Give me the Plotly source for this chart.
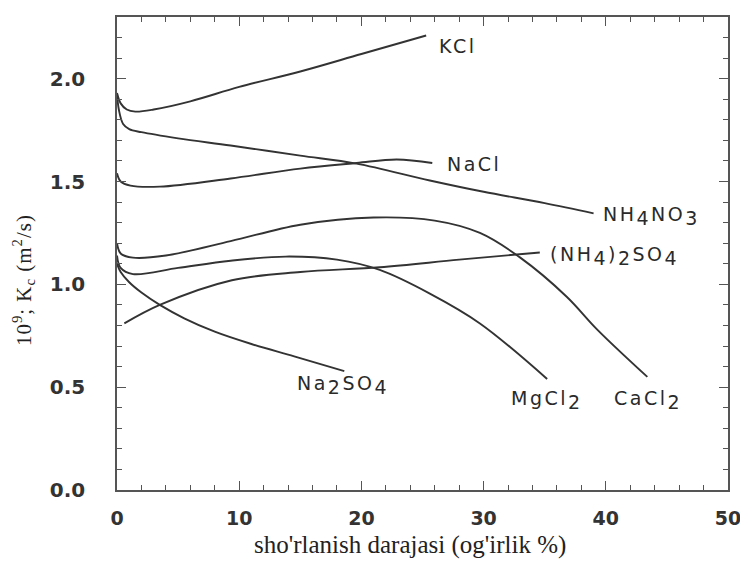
import plotly.graph_objects as go

# ---- data ----
kcl_x = [0, 0.3, 0.8, 1.5, 3, 6, 10, 15, 20, 25.3]
kcl_y = [1.93, 1.88, 1.85, 1.84, 1.85, 1.89, 1.96, 2.035, 2.12, 2.21]

nh4no3_x = [0, 0.15, 0.5, 1, 2, 5, 9.3, 15, 19.6, 25.6, 30, 35, 39]
nh4no3_y = [1.93, 1.85, 1.78, 1.755, 1.74, 1.71, 1.675, 1.626, 1.587, 1.505, 1.45, 1.395, 1.345]

nacl_x = [0, 0.3, 1.1, 3.5, 9.3, 15, 19.6, 22.9, 25.8]
nacl_y = [1.54, 1.50, 1.48, 1.475, 1.515, 1.563, 1.59, 1.607, 1.59]

cacl2_x = [0, 0.3, 1.3, 4, 9.3, 15, 21, 26, 29.7, 33, 36.8, 39.3, 43.4]
cacl2_y = [1.20, 1.15, 1.13, 1.14, 1.21, 1.29, 1.325, 1.31, 1.25, 1.13, 0.94, 0.78, 0.55]

mgcl2_x = [0, 0.3, 1.3, 5, 9.3, 13.8, 18, 21.5, 25.6, 29.7, 35.2]
mgcl2_y = [1.14, 1.08, 1.05, 1.08, 1.115, 1.135, 1.12, 1.07, 0.955, 0.81, 0.54]

nh42so4_x = [0.6, 3.5, 9.4, 15, 21.5, 28, 34.6]
nh42so4_y = [0.81, 0.90, 1.02, 1.06, 1.083, 1.12, 1.155]

na2so4_x = [0, 0.3, 1, 2, 3.5, 5.5, 8, 11, 14.5, 18.6]
na2so4_y = [1.10, 1.06, 1.01, 0.96, 0.90, 0.835, 0.77, 0.71, 0.65, 0.578]

series = [
    ("KCl", kcl_x, kcl_y),
    ("NH4NO3", nh4no3_x, nh4no3_y),
    ("NaCl", nacl_x, nacl_y),
    ("CaCl2", cacl2_x, cacl2_y),
    ("MgCl2", mgcl2_x, mgcl2_y),
    ("(NH4)2SO4", nh42so4_x, nh42so4_y),
    ("Na2SO4", na2so4_x, na2so4_y),
]


def sub(s):
    return "<sub><span style='font-size:19px'>" + s + "</span></sub>"


label_text = ["KCl", "NaCl", "NH" + sub("4") + "NO" + sub("3"),
              "(NH" + sub("4") + ")" + sub("2") + "SO" + sub("4"),
              "Na" + sub("2") + "SO" + sub("4"), "MgCl" + sub("2"), "CaCl" + sub("2")]
label_x = [26.2, 26.8, 39.6, 35.3, 14.6, 32.1, 40.5]
label_y = [2.16, 1.587, 1.33, 1.14, 0.51, 0.44, 0.44]

x_range = [0, 50]
y_range = [0, 2.3]
x_ticks = [0, 10, 20, 30, 40, 50]
y_ticks = [0.0, 0.5, 1.0, 1.5, 2.0]

x_title = "sho'rlanish darajasi (og'irlik %)"
y_title = "10<sup>9</sup>; K<sub>c</sub> (m<sup>2</sup>/s)"

LINE = "#333333"
AX = "#555555"

fig = go.Figure()
for name, xs, ys in series:
    fig.add_trace(go.Scatter(x=xs, y=ys, mode="lines", name=name,
                             line=dict(color=LINE, width=1.9, shape="spline", smoothing=1.0),
                             showlegend=False, hoverinfo="skip"))

for t, x, y in zip(label_text, label_x, label_y):
    fig.add_annotation(x=x, y=y, text="<span style='letter-spacing:2.5px'>" + t + "</span>",
                       showarrow=False, xanchor="left", yanchor="middle",
                       font=dict(family="DejaVu Sans, Arial", size=19, color="#2a2a2a"))

# axis titles placed as annotations (positions relative to plot area)
fig.add_annotation(xref="paper", yref="paper", x=0.48, y=-0.116, text=x_title, showarrow=False,
                   xanchor="center", yanchor="middle",
                   font=dict(family="Liberation Serif, Times New Roman", size=25, color="#222222"))
fig.add_annotation(xref="paper", yref="paper", x=-0.152, y=0.444,
                   text="<span style='letter-spacing:1px'>" + y_title + "</span>", showarrow=False,
                   xanchor="center", yanchor="middle", textangle=-90,
                   font=dict(family="Liberation Serif, Times New Roman", size=21, color="#222222"))

axis_common = dict(showline=True, linecolor=AX, linewidth=1.5, mirror="ticks",
                   ticks="inside", tickcolor=AX, showgrid=False, zeroline=False)

fig.update_xaxes(range=x_range, tickvals=x_ticks, ticklen=9, tickwidth=1.2,
                 ticklabelstandoff=10,
                 tickfont=dict(family="DejaVu Sans, Arial", size=19, color="#333333", weight="bold"),
                 minor=dict(dtick=2, ticks="inside", ticklen=5, tickcolor=AX, showgrid=False),
                 **axis_common)
fig.update_yaxes(range=y_range, tickvals=y_ticks, tickformat=".1f", ticklen=9, tickwidth=1.2,
                 ticklabelstandoff=26,
                 tickfont=dict(family="DejaVu Sans, Arial", size=20, color="#333333", weight="bold"),
                 minor=dict(dtick=0.1, ticks="inside", ticklen=5, tickcolor=AX, showgrid=False),
                 **axis_common)

# the page body has an 8px margin, so the figure is sized/offset to land the frame
# where the reference has it
fig.update_layout(width=740, height=558, margin=dict(l=109, r=20, t=7, b=76),
                  plot_bgcolor="white", paper_bgcolor="white")

fig.write_html("out.html")
